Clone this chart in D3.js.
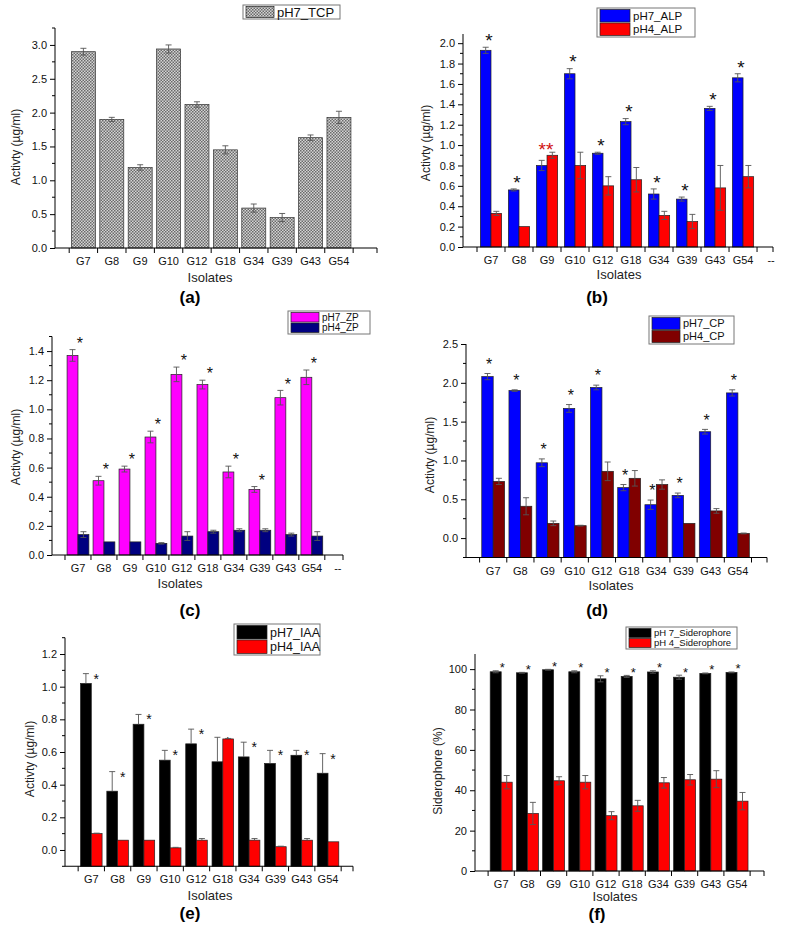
<!DOCTYPE html>
<html><head><meta charset="utf-8">
<script src="https://cdn.jsdelivr.net/npm/d3@7"></script>
<style>body{margin:0;background:#fff}svg{display:block}text{font-family:"Liberation Sans",Arial,sans-serif}</style>
</head><body><svg id="c" width="787" height="927"></svg>
<script>
const isolates = ["G7","G8","G9","G10","G12","G18","G34","G39","G43","G54"];

// (a) TCP
const tcpPH7 = [2.90,1.90,1.19,2.94,2.12,1.45,0.59,0.45,1.63,1.93];
const tcpPH7Err = [0.05,0.03,0.04,0.06,0.04,0.06,0.06,0.06,0.04,0.09];
// (b) ALP
const alpPH7 = [1.93,0.56,0.80,1.70,0.92,1.23,0.52,0.47,1.36,1.66];
const alpPH7Err = [0.03,0.01,0.05,0.05,0.01,0.03,0.05,0.02,0.02,0.04];
const alpPH4 = [0.33,0.20,0.90,0.80,0.60,0.66,0.31,0.25,0.58,0.69];
const alpPH4Err = [0.02,0.0,0.03,0.13,0.09,0.12,0.04,0.07,0.22,0.11];
const alpPH7Stars = ["*","*","","*","*","*","*","*","*","*"];
const alpPH4Stars = ["","","**","","","","","","",""];
// (c) ZP
const zpPH7 = [1.37,0.51,0.59,0.81,1.24,1.17,0.57,0.45,1.08,1.22];
const zpPH7Err = [0.04,0.03,0.02,0.04,0.05,0.03,0.04,0.02,0.05,0.05];
const zpPH4 = [0.14,0.09,0.09,0.08,0.13,0.16,0.17,0.17,0.14,0.13];
const zpPH4Err = [0.02,0.0,0.0,0.005,0.03,0.01,0.01,0.01,0.01,0.03];
const zpPH7Stars = ["*","*","*","*","*","*","*","*","*","*"];
// (d) CP
const cpPH7 = [2.08,1.90,0.97,1.67,1.94,0.65,0.43,0.55,1.37,1.87];
const cpPH7Err = [0.04,0.01,0.05,0.05,0.03,0.04,0.06,0.03,0.03,0.04];
const cpPH4 = [0.73,0.41,0.19,0.16,0.86,0.77,0.69,0.19,0.35,0.06];
const cpPH4Err = [0.04,0.11,0.03,0.005,0.12,0.10,0.06,0.0,0.03,0.005];
const cpPH7Stars = ["*","*","*","*","*","*","*","*","*","*"];
// (e) IAA
const iaaPH7 = [1.02,0.36,0.77,0.55,0.65,0.54,0.57,0.53,0.58,0.47];
const iaaPH7Err = [0.06,0.12,0.06,0.06,0.09,0.15,0.09,0.08,0.03,0.12];
const iaaPH4 = [0.10,0.06,0.06,0.013,0.06,0.68,0.06,0.02,0.06,0.05];
const iaaPH4Err = [0.003,0,0,0.003,0.01,0.003,0.01,0.003,0.01,0];
const iaaPH7Stars = ["*","*","*","*","*","*","*","*","*","*"];
// (f) Siderophore
const sidPH7 = [98.7,98.2,99.7,98.7,95.2,96.4,98.6,96.0,97.9,98.4];
const sidPH7Err = [0.5,0.2,0.2,0.5,1.5,0.5,0.6,1.0,0.2,0.2];
const sidPH4 = [44.0,28.5,44.7,44.0,27.4,32.3,43.7,45.2,45.5,34.6];
const sidPH4Err = [3.3,5.5,2.0,3.3,2.0,2.7,2.6,2.6,4.2,4.3];
const sidPH7Stars = ["*","*","*","*","*","*","*","*","*","*"];

const svg = d3.select("#c");
const defs = svg.append("defs");
const pat = defs.append("pattern").attr("id","mesh").attr("patternUnits","userSpaceOnUse")
  .attr("width",3).attr("height",3);
pat.append("rect").attr("width",3).attr("height",3).attr("fill","#d4d4d4");
pat.append("rect").attr("x",0).attr("y",0).attr("width",1.5).attr("height",1.5).attr("fill","#6a6a6a");
pat.append("rect").attr("x",1.5).attr("y",1.5).attr("width",1.5).attr("height",1.5).attr("fill","#6a6a6a");

function panel(cfg){
  const g = svg.append("g");
  const x = d3.scaleLinear().domain(cfg.xd).range([cfg.x0, cfg.x1]);
  const y = d3.scaleLinear().domain(cfg.yd).range([cfg.yb, cfg.yt]);
  const base = y(cfg.yd[0]);
  const n = cfg.series.length;
  const bwPx = x(cfg.bw) - x(0);
  cfg.series.forEach((s, si) => {
    const off = n === 1 ? -cfg.bw/2 : (si === 0 ? -cfg.bw : 0);
    const data = s.values.map((v,i)=>({v, e:s.err[i], i}));
    g.selectAll(null).data(data).join("rect")
      .attr("x", d => x(d.i+1+off)).attr("width", bwPx)
      .attr("y", d => y(d.v)).attr("height", d => base - y(d.v))
      .attr("fill", s.fill).attr("stroke", s.stroke || "#222").attr("stroke-width", 0.7);
    const eg = g.append("g").attr("stroke", s.errColor || "#555").attr("stroke-width", 0.9);
    data.filter(d => d.e > 0).forEach(d => {
      const cx = x(d.i+1+off+cfg.bw/2);
      const lo = cfg.upOnly ? d.v : d.v - d.e;
      eg.append("line").attr("x1",cx).attr("x2",cx).attr("y1",y(lo)).attr("y2",y(d.v+d.e));
      eg.append("line").attr("x1",cx-3).attr("x2",cx+3).attr("y1",y(d.v+d.e)).attr("y2",y(d.v+d.e));
      if(!cfg.upOnly) eg.append("line").attr("x1",cx-3).attr("x2",cx+3).attr("y1",y(d.v-d.e)).attr("y2",y(d.v-d.e));
    });
    if (s.stars) {
      const fs = cfg.starSize;
      s.stars.forEach((st,i) => {
        if (!st) return;
        const cx = x(i+1) + (s.starDx != null ? s.starDx : cfg.starDx);
        const cy = y(s.values[i] + s.err[i]) - (s.starDy != null ? s.starDy : cfg.starDy);
        g.append("text").attr("x",cx).attr("y",cy + 0.57*fs).attr("text-anchor","middle")
          .attr("font-size",fs).attr("fill", s.starColor || "#111").text(st);
      });
    }
  });
  const yTicks = d3.range(cfg.yTickStep[0], cfg.yTickStep[1] + 1e-9, cfg.yTickStep[2]);
  const yMinor = d3.range(cfg.yd[0], cfg.yd[1] + 1e-9, cfg.yTickStep[3]).filter(v => !yTicks.some(t => Math.abs(t-v) < 1e-6));
  const ya = d3.axisLeft(y).tickValues(yTicks).tickFormat(d3.format(cfg.yFmt)).tickSize(5).tickPadding(3);
  const yg = g.append("g").attr("transform",`translate(${cfg.x0},0)`).call(ya);
  yg.select(".domain").attr("d", `M0,${cfg.yb}V${cfg.yt}`).attr("stroke","#000");
  yg.selectAll("text").attr("font-size",11).attr("fill","#111");
  g.append("g").selectAll("line").data(yMinor).join("line")
    .attr("x1",cfg.x0-3).attr("x2",cfg.x0).attr("y1",d=>y(d)).attr("y2",d=>y(d)).attr("stroke","#000");
  const xg = g.append("g");
  xg.append("line").attr("x1",cfg.x0).attr("x2",cfg.x1).attr("y1",base).attr("y2",base).attr("stroke","#000").attr("stroke-width",1.1);
  const halfTicks = d3.range(0.5, cfg.xd[1], 1).concat([cfg.xd[1]]);
  xg.selectAll(null).data(halfTicks).join("line")
    .attr("x1",d=>x(d)).attr("x2",d=>x(d)).attr("y1",base).attr("y2",base+5).attr("stroke","#000");
  const labels = isolates.map((t,i)=>({t, p:i+1}));
  if (cfg.dash) labels.push({t:"--", p:11});
  xg.selectAll(null).data(labels).join("text")
    .attr("x",d=>x(d.p)).attr("y",base+17).attr("text-anchor","middle")
    .attr("font-size",11).attr("fill","#111").text(d=>d.t);
  g.append("text").attr("x",cfg.xt[0]).attr("y",cfg.xt[1]).attr("text-anchor","middle")
    .attr("font-size",13).attr("fill","#222").text("Isolates");
  g.append("text").attr("transform",`translate(${cfg.ytl[0]},${cfg.ytl[1]}) rotate(-90)`)
    .attr("text-anchor","middle").attr("font-size",12).attr("fill","#222").text(cfg.yTitle);
  g.append("text").attr("x",cfg.letter[0]).attr("y",cfg.letter[1]).attr("text-anchor","middle")
    .attr("font-size",17).attr("font-weight","bold").attr("fill","#000").text(cfg.letter[2]);
  const L = cfg.legend;
  g.append("rect").attr("x",L.x).attr("y",L.y).attr("width",L.w).attr("height",L.rowH*n + 2)
    .attr("fill","#fff").attr("stroke","#777").attr("stroke-width",1);
  cfg.series.forEach((s,si)=>{
    const ry = L.y + 1 + si*L.rowH;
    g.append("rect").attr("x",L.x+3).attr("y",ry+0.5).attr("width",L.sw).attr("height",L.rowH-1)
      .attr("fill",s.fill).attr("stroke","#222").attr("stroke-width",0.7);
    g.append("text").attr("x",L.x+L.sw+6).attr("y",ry+L.rowH*0.5+L.fs*0.36)
      .attr("font-size",L.fs).attr("fill","#111").text(s.name);
  });
}

panel({x0:55,x1:377,xd:[0,11.34],yb:248,yt:28,yd:[0,3.25],bw:0.845,
  series:[{name:"pH7_TCP",values:tcpPH7,err:tcpPH7Err,fill:"url(#mesh)",stroke:"#333"}],
  yTickStep:[0,3.0,0.5,0.25],yFmt:".1f",xt:[210,282],ytl:[20,147],yTitle:"Activty (µg/ml)",
  letter:[190,303,"(a)"],legend:{x:243,y:5,w:97,rowH:12,sw:28,fs:13},starSize:16,starDx:0,starDy:10});

panel({x0:463,x1:773,xd:[0,11.07],yb:247,yt:34,yd:[0,2.09],bw:0.38,dash:true,
  series:[{name:"pH7_ALP",values:alpPH7,err:alpPH7Err,fill:"#0000ff",stars:alpPH7Stars},
          {name:"pH4_ALP",values:alpPH4,err:alpPH4Err,fill:"#ff0000",stars:alpPH4Stars,starColor:"#d01010",starDx:-1,starDy:7}],
  yTickStep:[0,2.0,0.2,0.1],yFmt:".1f",xt:[619,279],ytl:[430,143],yTitle:"Activty (µg/ml)",
  letter:[597,303,"(b)"],legend:{x:597,y:8,w:98,rowH:13.5,sw:30,fs:11.5},starSize:19,starDx:-2,starDy:11});

panel({x0:52,x1:343,xd:[0,11.2],yb:555,yt:336.5,yd:[0,1.5],bw:0.42,dash:true,
  series:[{name:"pH7_ZP",values:zpPH7,err:zpPH7Err,fill:"#ff00ff",stars:zpPH7Stars},
          {name:"pH4_ZP",values:zpPH4,err:zpPH4Err,fill:"#000080"}],
  yTickStep:[0,1.4,0.2,0.1],yFmt:".1f",xt:[180,588],ytl:[20,447],yTitle:"Activty (µg/ml)",
  letter:[190,616,"(c)"],legend:{x:288,y:311,w:82,rowH:10.5,sw:28,fs:10},starSize:16,starDx:2,starDy:10});

panel({x0:466,x1:767,xd:[0,11.07],yb:557.5,yt:344,yd:[-0.25,2.5],bw:0.42,
  series:[{name:"pH7_CP",values:cpPH7,err:cpPH7Err,fill:"#0000ff",stars:cpPH7Stars},
          {name:"pH4_CP",values:cpPH4,err:cpPH4Err,fill:"#800000"}],
  yTickStep:[0,2.5,0.5,0.25],yFmt:".1f",xt:[611,590],ytl:[434,455],yTitle:"Activty (µg/ml)",
  letter:[597,616,"(d)"],legend:{x:649,y:316,w:85,rowH:13,sw:28,fs:11},starSize:16,starDx:-4,starDy:13});

panel({x0:65,x1:353,xd:[0,10.95],yb:866.3,yt:637.7,yd:[-0.1,1.3],bw:0.41,upOnly:true,
  series:[{name:"pH7_IAA",values:iaaPH7,err:iaaPH7Err,fill:"#000000",stars:iaaPH7Stars},
          {name:"pH4_IAA",values:iaaPH4,err:iaaPH4Err,fill:"#ff0000"}],
  yTickStep:[0,1.2,0.2,0.1],yFmt:".1f",xt:[210,900],ytl:[34,759],yTitle:"Activty (µg/ml)",
  letter:[190,919,"(e)"],legend:{x:234,y:624,w:86,rowH:14.5,sw:30,fs:12.5},starSize:14,starDx:5,starDy:-2});

panel({x0:475,x1:764,xd:[0,11.03],yb:871,yt:654,yd:[0,107.5],bw:0.42,
  series:[{name:"pH 7_Siderophore",values:sidPH7,err:sidPH7Err,fill:"#000000",stars:sidPH7Stars},
          {name:"pH 4_Siderophore",values:sidPH4,err:sidPH4Err,fill:"#ff0000"}],
  yTickStep:[0,100,20,10],yFmt:"d",xt:[615,901],ytl:[442,771],yTitle:"Siderophore (%)",
  letter:[597,920,"(f)"],legend:{x:626,y:627,w:111,rowH:10,sw:22,fs:9.5},starSize:13,starDx:1,starDy:6});
</script></body></html>
